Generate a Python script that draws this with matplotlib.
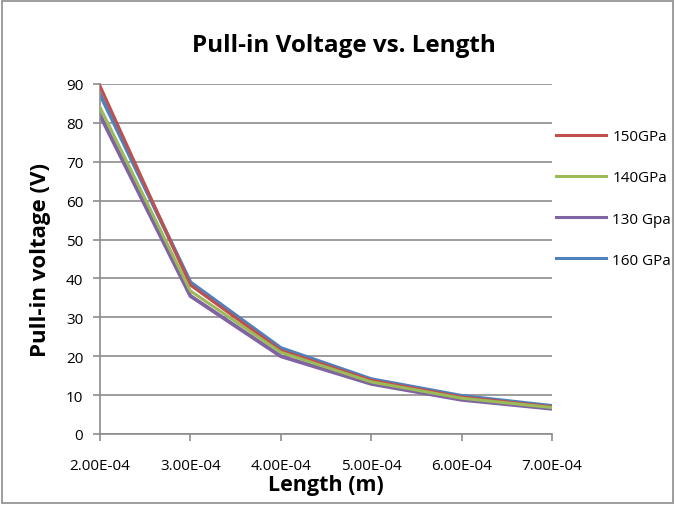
import numpy as np
import matplotlib.pyplot as plt

# data
length = [2e-4, 3e-4, 4e-4, 5e-4, 6e-4, 7e-4]
x_labels = ['2.00E-04', '3.00E-04', '4.00E-04', '5.00E-04', '6.00E-04', '7.00E-04']
v_150 = [89.5, 38.3, 21.5, 13.8, 9.5, 7.0]
v_140 = [84.0, 36.8, 21.0, 13.4, 9.2, 6.8]
v_130 = [82.0, 35.5, 20.0, 12.9, 8.8, 6.5]
v_160 = [87.4, 39.0, 22.1, 14.1, 9.8, 7.2]

plt.rcParams['font.family'] = ['Open Sans', 'DejaVu Sans']

fig = plt.figure(figsize=(6.75, 5.06), dpi=100)
ax = fig.add_axes([100 / 675, 1 - 435 / 506, 452 / 675, 350 / 506])

l150, = ax.plot(length, v_150, color='#C0504D', lw=2.2, label='150GPa', zorder=3)
l140, = ax.plot(length, v_140, color='#9BBB59', lw=2.2, label='140GPa', zorder=4)
l130, = ax.plot(length, v_130, color='#8064A2', lw=2.8, label='130 Gpa', zorder=2)
l160, = ax.plot(length, v_160, color='#4F81BD', lw=2.8, label='160 GPa', zorder=2)

ax.set_xlim(2e-4, 7e-4)
ax.set_ylim(0, 90)
ax.set_xticks(length)
ax.set_xticklabels(x_labels)
ax.set_yticks(np.arange(0, 91, 10))
ax.yaxis.grid(True, color='#8C8C8C', lw=1.2)
ax.set_axisbelow(True)
for s in ['top', 'right']:
    ax.spines[s].set_visible(False)
for s in ['left', 'bottom']:
    ax.spines[s].set_color('#8C8C8C')
    ax.spines[s].set_linewidth(1.2)
ax.tick_params(colors='#8C8C8C', labelcolor='black', labelsize=11, length=5, width=1.2)
ax.tick_params(axis='x', pad=12)
ax.tick_params(axis='y', pad=7)

ax.set_title('Pull-in Voltage vs. Length', fontsize=17.5, fontweight='bold', pad=24, x=0.54)
ax.set_ylabel('Pull-in voltage (V)', fontsize=16, fontweight='bold', labelpad=11)
ax.set_xlabel('Length (m)', fontsize=15.5, fontweight='bold')
ax.xaxis.set_label_coords(0.5, -0.115)

leg = ax.legend(loc='upper left', bbox_to_anchor=(0.995, 0.889), frameon=False,
                fontsize=11, handlelength=3.3, labelspacing=1.72, borderaxespad=0,
                handletextpad=0.4)
for h in leg.get_lines():
    h.set_linewidth(2.2)

fig.patches.append(plt.Rectangle((0.003, 0.003), 0.994, 0.994, transform=fig.transFigure,
                                 fill=False, edgecolor='#8C8C8C', lw=1.2))

fig.savefig('out.png', dpi=100)
